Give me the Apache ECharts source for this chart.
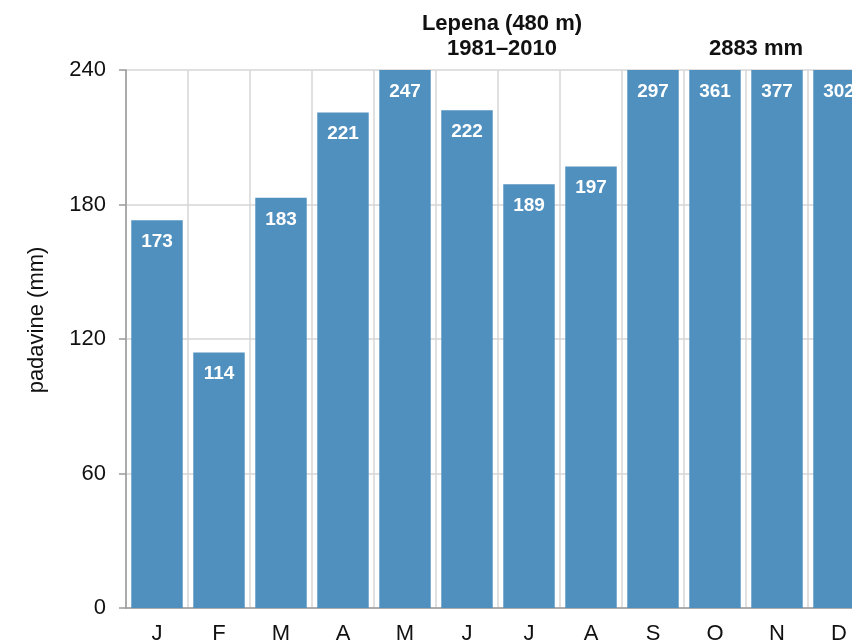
<!DOCTYPE html>
<html>
<head>
<meta charset="utf-8">
<script src="https://cdn.jsdelivr.net/npm/echarts@6/dist/echarts.min.js"></script>
<style>
  html, body { margin: 0; padding: 0; background: #fff; }
  #chart { width: 852px; height: 643px; }
</style>
</head>
<body>
<div id="chart"></div>
<script>
// Monthly precipitation, Lepena (480 m), 1981–2010
const months = ['J', 'F', 'M', 'A', 'M', 'J', 'J', 'A', 'S', 'O', 'N', 'D'];
const precipitation = [173, 114, 183, 221, 247, 222, 189, 197, 297, 361, 377, 302];
const yTicks = [0, 60, 120, 180, 240];
const stationTitle = 'Lepena (480 m)';
const periodTitle = '1981–2010';
const annualTotal = '2883 mm';
const yAxisTitle = 'padavine (mm)';

const FONT = '"Liberation Sans", Arial, sans-serif';
const chart = echarts.init(document.getElementById('chart'), null, { renderer: 'canvas' });

chart.setOption({
  animation: false,
  backgroundColor: '#ffffff',
  // the plot runs past the right edge of the canvas, so the last bar is cut off
  grid: { left: 126, top: 70, width: 744, height: 538, outerBoundsMode: 'none', containLabel: false },
  title: [
    {
      text: stationTitle + '\n' + periodTitle,
      left: 502, top: 12, textAlign: 'center', padding: 0,
      textStyle: { fontFamily: FONT, fontSize: 22, fontWeight: 'bold', color: '#111', lineHeight: 24.5 }
    },
    {
      text: annualTotal,
      left: 756, top: 37, textAlign: 'center', padding: 0,
      textStyle: { fontFamily: FONT, fontSize: 22, fontWeight: 'bold', color: '#111', lineHeight: 24.5 }
    }
  ],
  xAxis: {
    type: 'category',
    data: months,
    boundaryGap: true,
    axisLine: { show: true, lineStyle: { color: '#9a9a9a', width: 1.5 } },
    axisTick: { show: false },
    axisLabel: { fontFamily: FONT, fontSize: 22, color: '#111', margin: 15 },
    splitLine: { show: true, lineStyle: { color: '#d6d6d6', width: 1.5 } }
  },
  yAxis: {
    type: 'value',
    min: yTicks[0],
    max: yTicks[yTicks.length - 1],
    interval: yTicks[1] - yTicks[0],
    name: yAxisTitle,
    nameLocation: 'middle',
    nameGap: 78,
    nameTextStyle: { fontFamily: FONT, fontSize: 22, color: '#111', padding: [0, 0, 0, 38] },
    axisLine: { show: true, lineStyle: { color: '#9a9a9a', width: 1.5 } },
    axisTick: { show: true, length: 7, lineStyle: { color: '#9a9a9a', width: 1.5 } },
    axisLabel: { fontFamily: FONT, fontSize: 22, color: '#111', margin: 20 },
    splitLine: { show: true, lineStyle: { color: '#d6d6d6', width: 1.5 } }
  },
  series: [{
    type: 'bar',
    data: precipitation,
    barCategoryGap: '17%',
    clip: true,
    itemStyle: { color: '#5090bf' },
    label: {
      show: true,
      position: 'insideTop',
      distance: 12,
      fontFamily: FONT,
      fontSize: 19,
      fontWeight: 'bold',
      color: '#ffffff'
    }
  }]
});
</script>
</body>
</html>
